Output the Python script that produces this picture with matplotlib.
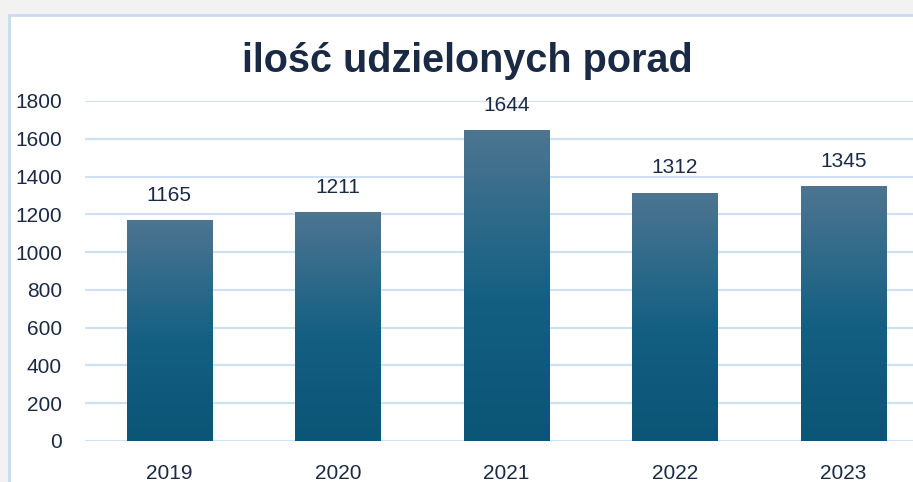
import matplotlib.pyplot as plt
import numpy as np
from matplotlib.colors import LinearSegmentedColormap
from matplotlib.patches import Rectangle

years = ['2019', '2020', '2021', '2022', '2023']
porady = [1165, 1211, 1644, 1312, 1345]
yticks = [0, 200, 400, 600, 800, 1000, 1200, 1400, 1600, 1800]
title = 'ilość udzielonych porad'

txt = '#1b2a44'
grid_c = '#cfe0f3'
cmap = LinearSegmentedColormap.from_list(
    'bar', [(0.0, '#0b5576'), (0.45, '#135f82'), (1.0, '#4d7591')])

plt.rcParams['font.family'] = ['Liberation Sans', 'DejaVu Sans']

fig = plt.figure(figsize=(9.13, 4.82), dpi=100)
fig.patch.set_facecolor('#f2f2f2')

# white chart area with light border
fig.patches.append(Rectangle((9 / 913, -0.1), 1.2, (482 - 15) / 482 + 0.1,
                             transform=fig.transFigure, facecolor='white',
                             edgecolor='#c8dcf0', linewidth=2, zorder=-10))

ax = fig.add_axes([85 / 913, 41 / 482, 842.5 / 913, 340 / 482])
ax.set_facecolor('none')
n = len(years)

grad = np.linspace(0, 1, 256).reshape(-1, 1)
w = 0.505
for i, v in enumerate(porady):
    x0 = i + 0.5 - w / 2
    ax.imshow(grad, cmap=cmap, origin='lower', aspect='auto',
              extent=(x0, x0 + w, 0, v), zorder=3)
    ax.text(i + 0.5, v + 83, str(v), ha='center', va='bottom',
            fontsize=15, color=txt)
ax.set_xlim(0, n)
ax.set_ylim(0, 1800)

ax.set_yticks(yticks)
ax.set_yticklabels([str(t) for t in yticks])
ax.set_xticks([i + 0.5 for i in range(n)])
ax.set_xticklabels(years)
ax.tick_params(axis='both', length=0, labelsize=15, labelcolor=txt)
ax.tick_params(axis='y', pad=16.5)
ax.tick_params(axis='x', pad=16.5)
ax.grid(axis='y', color=grid_c, linewidth=1.5, zorder=1)
ax.set_axisbelow(True)
for s in ax.spines.values():
    s.set_visible(False)

fig.text(467 / 913, (482 - 61) / 482, title, ha='center', va='center',
         fontsize=28.5, fontweight='bold', color=txt)

fig.savefig('out.png', dpi=100, facecolor=fig.get_facecolor())
